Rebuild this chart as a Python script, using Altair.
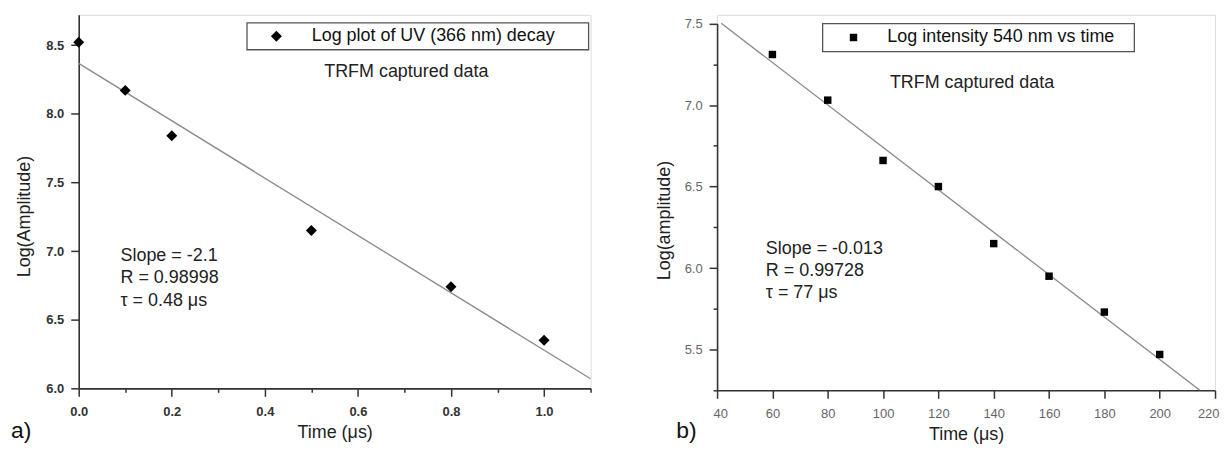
import altair as alt
import pandas as pd

# ---------------- data ----------------
# Panel a) UV (366 nm) decay
t_a = [0.0, 0.1, 0.2, 0.5, 0.8, 1.0]
amp_a = [8.52, 8.17, 7.84, 7.15, 6.74, 6.35]
series_a = ["Log plot of UV (366 nm) decay"]
stats_a = ["Slope = -2.1", "R = 0.98998", "τ = 0.48 μs"]
x_ticks_a = [0.0, 0.1, 0.2, 0.3, 0.4, 0.5, 0.6, 0.7, 0.8, 0.9, 1.0, 1.1]
y_ticks_a = [6.0, 6.25, 6.5, 6.75, 7.0, 7.25, 7.5, 7.75, 8.0, 8.25, 8.5]

# Panel b) 540 nm intensity decay
t_b = [60, 80, 100, 120, 140, 160, 180, 200]
amp_b = [7.31, 7.03, 6.66, 6.50, 6.15, 5.95, 5.73, 5.47]
series_b = ["Log intensity 540 nm vs time"]
stats_b = ["Slope = -0.013", "R = 0.99728", "τ = 77 μs"]
x_ticks_b = [40, 50, 60, 70, 80, 90, 100, 110, 120, 130, 140, 150, 160, 170, 180, 190, 200, 210, 220]
y_ticks_b = [5.25, 5.5, 5.75, 6.0, 6.25, 6.5, 6.75, 7.0, 7.25, 7.5]

note = "TRFM captured data"
panel_labels = ["a)", "b)"]

FONT = "Liberation Sans"
AX = "#333333"


def axis(values, major_test, fmt, title, label_color, label_weight, **kw):
    opts = dict(
        values=values,
        labelExpr=f"({major_test}) ? format(datum.value, '{fmt}') : ''",
        tickSize={"condition": {"test": major_test, "value": 8}, "value": 4},
        tickWidth=1.5, tickColor=AX, domainColor=AX, domainWidth=1.6,
        labelFont=FONT, labelFontSize=13, labelColor=label_color,
        labelFontWeight=label_weight, labelFlush=False, labelOverlap=False,
        grid=False, title=title, titleFont=FONT, titleFontSize=18,
        titleFontWeight="normal", titleColor="#222222")
    opts.update(kw)
    return alt.Axis(**opts)


def panel(t, amp, series, stats, xt, yt, xdom, ydom, line_ext, xfmt, xtest, ytest,
          ytitle, shape, size, w, h, y_top, lab_color, lab_weight, leg, box, trfm,
          stat_pos, plabel, plabel_pos, ytitle_pos, xflush):
    df = pd.DataFrame({"t": t, "amp": amp, "series": series * len(t)})
    base = alt.Chart(df)
    xenc = alt.X("t:Q", scale=alt.Scale(domain=xdom, nice=False, zero=False),
                 axis=axis(xt, xtest, xfmt, "Time (μs)", lab_color, lab_weight,
                           labelPadding=9, titleY=44, titleBaseline="middle",
                           **xflush))
    yenc = alt.Y("amp:Q", scale=alt.Scale(domain=ydom, nice=False, zero=False,
                                          range=[h, y_top]),
                 axis=axis(yt, ytest, ".1f", ytitle, lab_color, lab_weight,
                           labelPadding=7, titleX=ytitle_pos[0], titleY=ytitle_pos[1],
                           titleAngle=270, titleBaseline="middle", titleAlign="center"))

    line = base.transform_regression("t", "amp", extent=line_ext).mark_line(
        color="#8a8a8a", strokeWidth=1.3, clip=True).encode(x="t:Q", y="amp:Q")

    pts = base.mark_point(shape=shape, filled=True, size=size, color="black", opacity=1).encode(
        x=xenc, y=yenc,
        shape=alt.Shape("series:N", scale=alt.Scale(range=[shape]), legend=alt.Legend(
            orient="none", legendX=leg[0], legendY=leg[1], title=None, padding=0,
            labelFont=FONT, labelFontSize=18, labelColor="#111111", labelLimit=0,
            labelOffset=leg[2], symbolSize=size, symbolFillColor="black",
            symbolStrokeColor="black", symbolStrokeWidth=0)))

    one = alt.Data(values=[{"k": 1}])
    rect = alt.Chart(one).mark_rect(fill="white", stroke="#555555", strokeWidth=1.3).encode(
        x=alt.value(box[0]), x2=alt.value(box[1]), y=alt.value(box[2]), y2=alt.value(box[3]))

    txt_note = alt.Chart(one).mark_text(font=FONT, fontSize=18, color="#222222",
                                        align="center", baseline="middle").encode(
        x=alt.value(trfm[0]), y=alt.value(trfm[1]), text=alt.value(note))

    txt_stats = alt.Chart(one).mark_text(font=FONT, fontSize=18, color="#222222",
                                         align="left", baseline="top", lineHeight=22.5).encode(
        x=alt.value(stat_pos[0]), y=alt.value(stat_pos[1]), text=alt.value(stats))

    txt_lab = alt.Chart(one).mark_text(font=FONT, fontSize=23, color="#111111",
                                       align="left", baseline="middle").encode(
        x=alt.value(plabel_pos[0]), y=alt.value(plabel_pos[1]), text=alt.value(plabel))

    return alt.layer(rect, line, pts, txt_note, txt_stats, txt_lab).properties(width=w, height=h)


chart_a = panel(t_a, amp_a, series_a, stats_a, x_ticks_a, y_ticks_a, [0.0, 1.1], [6.0, 8.72],
                [0.0, 1.1], ".1f", "round(datum.value*10)%2==0", "round(datum.value*4)%2==0",
                "Log(Amplitude)", "diamond", 121, 514, 375, 0, "#333333", "bold",
                (189.5, 12.5, 26.5), (169, 512, 8, 35), (329, 57), (42, 233),
                panel_labels[0], (-68, 418), (-54, 202), {})

chart_b = panel(t_b, amp_b, series_b, stats_b, x_ticks_b, y_ticks_b, [40, 220], [5.25, 7.5],
                [41.5, 215], "d", "round(datum.value/10)%2==0", "round(datum.value*4)%2==0",
                "Log(amplitude)", "square", 56, 500, 377, 8.7, "#666666", "normal",
                (128, 13.7, 25), (106, 419, 8.7, 37), (256, 68.7), (49, 225.7),
                panel_labels[1], (-41, 418), (-53, 206),
                {"labelFlush": True, "labelFlushOffset": 4})

chart = alt.hconcat(chart_a, chart_b, spacing=62).resolve_scale(
    shape="independent"
).resolve_legend(shape="independent").properties(
    padding={"left": 2, "top": 5, "right": 0, "bottom": 0}
).configure_view(stroke=None).configure(background="white")

chart.save("out.html", embed_options={"renderer": "svg", "actions": False})
